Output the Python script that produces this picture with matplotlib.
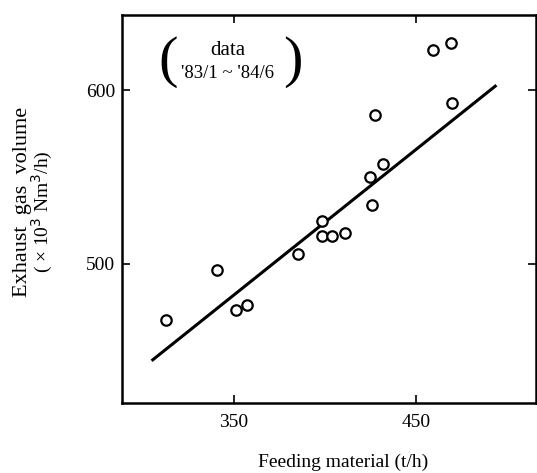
import matplotlib.pyplot as plt

plt.rcParams['font.family'] = ['Liberation Serif', 'DejaVu Serif']

# measured points
feed = [312.6, 340.8, 351.1, 357.5, 385.5, 398.7, 398.7, 404.0, 411.2,
        426.2, 425.1, 432.0, 427.5, 459.5, 469.6, 470.1]
gas = [467.8, 496.6, 473.6, 476.4, 505.6, 524.9, 516.1, 516.1, 517.6,
       533.9, 550.2, 557.5, 585.6, 623.0, 627.2, 592.4]

# regression line ends
line_x = [304.8, 494.3]
line_y = [444.3, 602.9]

xticks = [350, 450]
yticks = [500, 600]


def main():
    fig = plt.figure(figsize=(5.37, 4.73), dpi=100)
    ax = fig.add_axes([0.227, 0.148, 0.771, 0.821])

    ax.plot(line_x, line_y, color='black', lw=2.2, solid_capstyle='butt')
    ax.plot(feed, gas, 'o', mfc='white', mec='black', mew=1.6, ms=7.5)

    ax.set_xlim(288.5, 516)
    ax.set_ylim(420, 643.5)
    ax.set_xticks(xticks)
    ax.set_yticks(yticks)
    ax.tick_params(direction='in', length=6, width=1.2, labelsize=14,
                   top=True, right=True, pad=5)
    ax.tick_params(axis='x', pad=8)
    for s in ax.spines.values():
        s.set_linewidth(1.8)

    # note in parentheses
    ax.text(0.256, 0.908, 'data', transform=ax.transAxes, ha='center',
            va='center', fontsize=15)
    ax.text(0.256, 0.848, "'83/1 ~ '84/6", transform=ax.transAxes,
            ha='center', va='center', fontsize=13.5)
    ax.text(0.111, 0.878, '(', transform=ax.transAxes, ha='center',
            va='center', fontsize=42, fontweight='light')
    ax.text(0.413, 0.878, ')', transform=ax.transAxes, ha='center',
            va='center', fontsize=42, fontweight='light')

    fig.text(0.639, 0.023, 'Feeding material (t/h)', ha='center',
             va='center', fontsize=14)
    fig.text(0.041, 0.573, 'Exhaust  gas  volume', rotation=90,
             ha='center', va='center', fontsize=16)
    fig.text(0.08, 0.552, '( × 10$^3$ Nm$^3$/h)', rotation=90, ha='center',
             va='center', fontsize=14)

    fig.savefig('out.png', dpi=100)


if __name__ == '__main__':
    main()
